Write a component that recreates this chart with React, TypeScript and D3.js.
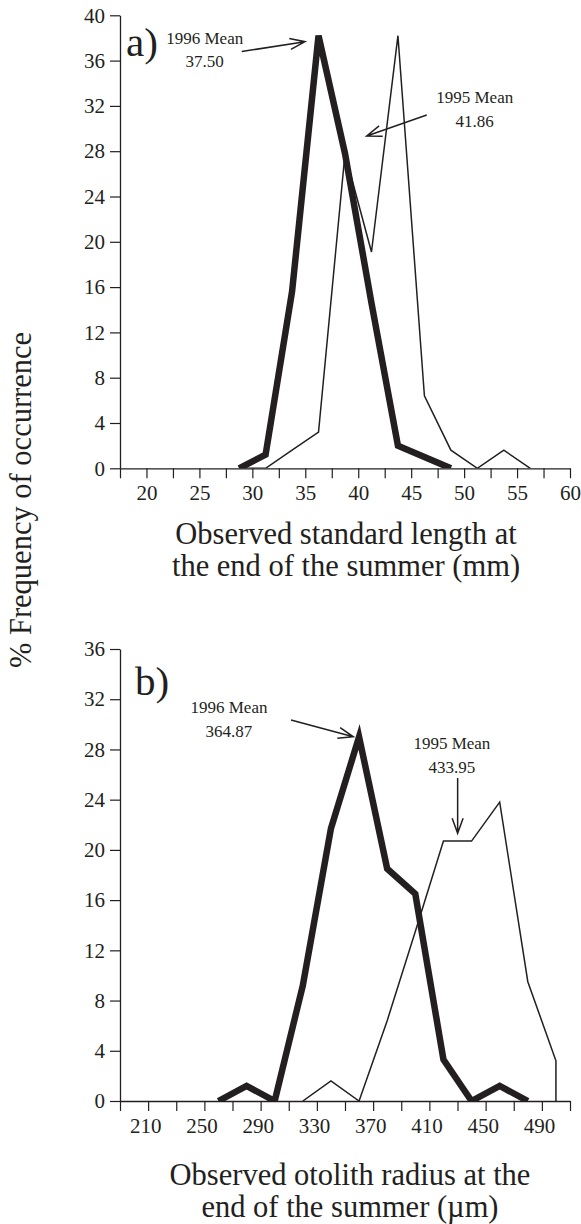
import { useEffect, useRef } from "react";
import * as d3 from "d3";

// a) observed standard length at the end of the summer (mm)
const lengthBins1996 = [28.75, 31.25, 33.75, 36.25, 38.75, 41.25, 43.75, 46.25, 48.75];
const lengthPct1996 = [0, 1.2, 15.6, 38.2, 27.8, 14.6, 2.0, 1.0, 0];
const lengthBins1995 = [28.75, 31.25, 33.75, 36.25, 38.75, 41.25, 43.75, 46.25, 48.75, 51.25, 53.75, 56.25];
const lengthPct1995 = [0, 0, 1.6, 3.2, 27.8, 19.1, 38.2, 6.4, 1.6, 0, 1.6, 0];
const lengthTicks = [17.5, 20, 22.5, 25, 27.5, 30, 32.5, 35, 37.5, 40, 42.5, 45, 47.5, 50, 52.5, 55, 57.5, 60];
const lengthTickLabels = [20, 25, 30, 35, 40, 45, 50, 55, 60];
const lengthPctTicks = [0, 4, 8, 12, 16, 20, 24, 28, 32, 36, 40];

// b) observed otolith radius at the end of the summer (um)
const radiusBins1996 = [260, 280, 300, 320, 340, 360, 380, 400, 420, 440, 460, 480];
const radiusPct1996 = [0, 1.2, 0, 9.2, 21.7, 29.0, 18.5, 16.5, 3.3, 0, 1.2, 0];
const radiusBins1995 = [320, 340, 360, 380, 400, 420, 440, 460, 480, 500, 500];
const radiusPct1995 = [0, 1.6, 0, 6.4, 13.5, 20.7, 20.7, 23.8, 9.5, 3.2, 0];
const radiusTicks = [190, 210, 230, 250, 270, 290, 310, 330, 350, 370, 390, 410, 430, 450, 470, 490, 510];
const radiusTickLabels = [210, 250, 290, 330, 370, 410, 450, 490];
const radiusPctTicks = [0, 4, 8, 12, 16, 20, 24, 28, 32, 36];

// mean annotations, placed in data units
const lengthNotes = [
  { text: ["1996 Mean", "37.50"], at: [25.5, 37.47], from: [29.0, 36.8], to: [34.97, 37.67] },
  { text: ["1995 Mean", "41.86"], at: [51.0, 32.25], from: [46.47, 31.19], to: [40.8, 29.34] },
];
const radiusNotes = [
  { text: ["1996 Mean", "364.87"], at: [267.5, 30.9], from: [311.6, 30.34], to: [355.9, 29.01] },
  { text: ["1995 Mean", "433.95"], at: [426, 28.03], from: [430.1, 25.72], to: [430.1, 21.32] },
];

const INK = "#231f20";
const FONT = "'Liberation Serif', 'Times New Roman', serif";
const LEFT = 120;
const RIGHT = 570;

type Note = { text: string[]; at: number[]; from: number[]; to: number[] };

type Panel = {
  id: string;
  letter: string;
  letterPos: [number, number];
  top: number;
  bottom: number;
  xDomain: [number, number];
  yDomain: [number, number];
  xTicks: number[];
  xLabels: number[];
  labelDx: number;
  yTicks: number[];
  thin: [number, number][];
  thick: [number, number][];
  notes: Note[];
  title: string[];
  titleX: number;
  titleY: number;
};

const zip = (xs: number[], ys: number[]) => xs.map((v, i) => [v, ys[i]] as [number, number]);

const panelA: Panel = {
  id: "clip-a",
  letter: "a)",
  letterPos: [126, 56],
  top: 15.3,
  bottom: 468.3,
  xDomain: [17.5, 60],
  yDomain: [0, 40],
  xTicks: lengthTicks,
  xLabels: lengthTickLabels,
  labelDx: 0,
  yTicks: lengthPctTicks,
  thin: zip(lengthBins1995, lengthPct1995),
  thick: zip(lengthBins1996, lengthPct1996),
  notes: lengthNotes,
  title: ["Observed standard length at", "the end of the summer (mm)"],
  titleX: 346,
  titleY: 543.5,
};

const panelB: Panel = {
  id: "clip-b",
  letter: "b)",
  letterPos: [135, 695],
  top: 649,
  bottom: 1101,
  xDomain: [190, 510],
  yDomain: [0, 36],
  xTicks: radiusTicks,
  xLabels: radiusTickLabels,
  labelDx: -3,
  yTicks: radiusPctTicks,
  thin: zip(radiusBins1995, radiusPct1995),
  thick: zip(radiusBins1996, radiusPct1996),
  notes: radiusNotes,
  title: ["Observed otolith radius at the", "end of the summer (\u00b5m)"],
  titleX: 350,
  titleY: 1185,
};

function drawPanel(svg: d3.Selection<SVGSVGElement, unknown, null, undefined>, p: Panel) {
  const x = d3.scaleLinear().domain(p.xDomain).range([LEFT, RIGHT]);
  const y = d3.scaleLinear().domain(p.yDomain).range([p.bottom, p.top]);
  const g = svg.append("g");

  // clip so the heavy line does not bleed under the x axis
  g.append("clipPath")
    .attr("id", p.id)
    .append("rect")
    .attr("x", 0)
    .attr("y", p.top - 40)
    .attr("width", 581)
    .attr("height", p.bottom - p.top + 40);

  const xAxis = d3
    .axisBottom(x)
    .tickValues(p.xTicks)
    .tickSize(10)
    .tickSizeOuter(0)
    .tickPadding(7)
    .tickFormat((d) => (p.xLabels.includes(+d) ? String(d) : ""));
  const gx = g.append("g").attr("transform", `translate(0,${p.bottom})`).call(xAxis);
  gx.attr("font-size", 21).attr("font-family", FONT);
  gx.selectAll("text").attr("fill", INK).attr("dx", p.labelDx);

  const yAxis = d3.axisLeft(y).tickValues(p.yTicks).tickSize(10).tickSizeOuter(0).tickPadding(5);
  const gy = g.append("g").attr("transform", `translate(${LEFT},0)`).call(yAxis);
  gy.attr("font-size", 21).attr("font-family", FONT);
  gy.selectAll("text").attr("fill", INK);

  for (const ax of [gx, gy]) {
    ax.select(".domain").attr("stroke", INK).attr("stroke-width", 1.3);
    ax.selectAll(".tick line").attr("stroke", INK).attr("stroke-width", 1.2);
  }

  const line = d3
    .line<[number, number]>()
    .x((d) => x(d[0]))
    .y((d) => y(d[1]));

  // 1995 thin line drawn underneath the 1996 bold line
  g.append("path")
    .attr("d", line(p.thin))
    .attr("fill", "none")
    .attr("stroke", INK)
    .attr("stroke-width", 1.5)
    .attr("stroke-linejoin", "miter")
    .attr("clip-path", `url(#${p.id})`);

  g.append("path")
    .attr("d", line(p.thick))
    .attr("fill", "none")
    .attr("stroke", INK)
    .attr("stroke-width", 6.5)
    .attr("stroke-linejoin", "miter")
    .attr("stroke-miterlimit", 4)
    .attr("clip-path", `url(#${p.id})`);

  // panel letter
  g.append("text")
    .attr("x", p.letterPos[0])
    .attr("y", p.letterPos[1])
    .attr("font-family", FONT)
    .attr("font-size", 41)
    .attr("fill", INK)
    .text(p.letter);

  // mean labels and arrows
  p.notes.forEach((n) => {
    const t = g
      .append("text")
      .attr("font-family", FONT)
      .attr("font-size", 17)
      .attr("fill", INK)
      .attr("text-anchor", "middle");
    n.text.forEach((s, i) => {
      t.append("tspan")
        .attr("x", x(n.at[0]))
        .attr("y", y(n.at[1]) + i * 23.5)
        .text(s);
    });

    const fx = x(n.from[0]);
    const fy = y(n.from[1]);
    const tx = x(n.to[0]);
    const ty = y(n.to[1]);
    const a = Math.atan2(ty - fy, tx - fx);
    const len = 16;
    const h = (20 * Math.PI) / 180;
    const p1 = [tx - len * Math.cos(a - h), ty - len * Math.sin(a - h)];
    const p2 = [tx - len * Math.cos(a + h), ty - len * Math.sin(a + h)];
    const path = d3.path();
    path.moveTo(fx, fy);
    path.lineTo(tx, ty);
    path.moveTo(p1[0], p1[1]);
    path.lineTo(tx, ty);
    path.lineTo(p2[0], p2[1]);
    g.append("path")
      .attr("d", path.toString())
      .attr("fill", "none")
      .attr("stroke", INK)
      .attr("stroke-width", 1.5);
  });

  // x axis title
  const title = g
    .append("text")
    .attr("font-family", FONT)
    .attr("font-size", 30.5)
    .attr("fill", INK)
    .attr("text-anchor", "middle");
  p.title.forEach((s, i) => {
    title
      .append("tspan")
      .attr("x", p.titleX)
      .attr("y", p.titleY + i * 32)
      .text(s);
  });
}

export default function App() {
  const svgRef = useRef<SVGSVGElement>(null);

  useEffect(() => {
    if (!svgRef.current) return;
    const svg = d3.select(svgRef.current);
    svg.selectAll("*").remove();

    drawPanel(svg, panelA);
    drawPanel(svg, panelB);

    // shared y axis title
    svg
      .append("text")
      .attr("transform", "translate(31,500) rotate(-90)")
      .attr("text-anchor", "middle")
      .attr("font-family", FONT)
      .attr("font-size", 30.5)
      .attr("fill", INK)
      .text("% Frequency of occurrence");
  }, []);

  return (
    <svg
      ref={svgRef}
      width={581}
      height={1224}
      style={{ position: "absolute", left: 0, top: 0, background: "#fff" }}
    />
  );
}
